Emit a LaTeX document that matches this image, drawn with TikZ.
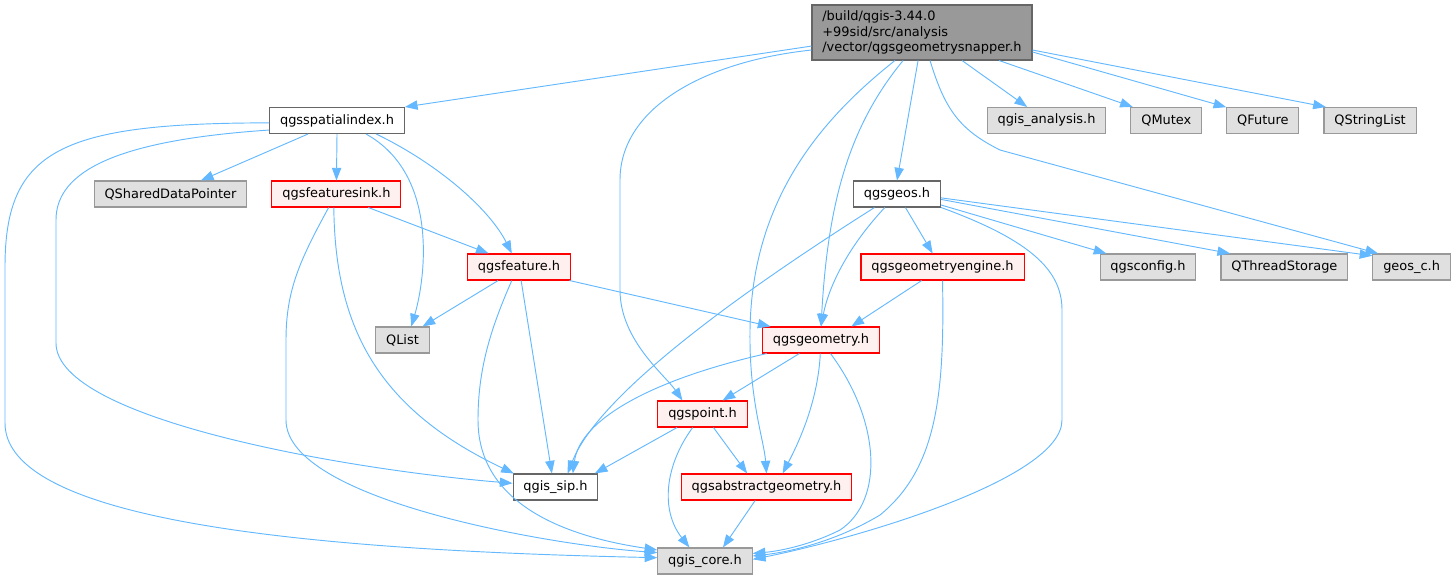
\documentclass[tikz,border=0pt]{standalone}
\usepackage{fontspec}
\setmainfont{DejaVu Sans}
\usepackage{tikz}
\usetikzlibrary{arrows.meta,positioning}
\definecolor{edgeblue}{HTML}{63B8FF}
\definecolor{boxgray}{HTML}{666666}
\definecolor{extgray}{HTML}{999999}
\definecolor{extfill}{HTML}{E0E0E0}
\definecolor{redfill}{HTML}{FFF0F0}
\tikzset{
    dep/.style={-{Triangle[length=9.5pt, width=7pt]}, line width=0.7pt, edgeblue},
    hfile/.style={draw=boxgray, fill=white, line width=0.8pt, minimum height=19.5pt, inner xsep=7.8pt, inner ysep=0pt, font=\fontsize{9.7pt}{12pt}\selectfont},
    sysfile/.style={hfile, draw=extgray, fill=extfill},
    redfile/.style={hfile, draw=red, fill=redfill},
    topfile/.style={hfile, fill=extgray, align=left, inner xsep=7pt, minimum width=165pt, minimum height=41.25pt, font=\fontsize{9.7pt}{11.7pt}\selectfont}
}

\begin{document}
\begin{tikzpicture}[x=0.75pt, y=-0.75pt, node distance=18pt]
    \useasboundingbox (0,0) rectangle (1455,579);

    % the snapper header
    \node[topfile] (snap) at (922,32.5) {/build/qgis-3.44.0\\+99sid/src/analysis\\/vector/qgsgeometrysnapper.h};

    % first row
    \node[hfile] (sidx) at (337,120.5) {qgsspatialindex.h};
    \node[sysfile] (ana) at (1046.5,120.5) {qgis\_analysis.h};
    \node[sysfile, right=of ana] (mutex) {QMutex};
    \node[sysfile, right=of mutex] (fut) {QFuture};
    \node[sysfile, right=of fut] (strl) {QStringList};

    % second row
    \node[sysfile] (qsdp) at (170.5,194) {QSharedDataPointer};
    \node[redfile, right=of qsdp] (sink) {qgsfeaturesink.h};
    \node[hfile] (geos) at (897,194) {qgsgeos.h};

    % third row
    \node[redfile] (feat) at (519,267) {qgsfeature.h};
    \node[redfile] (geng) at (942.5,267) {qgsgeometryengine.h};
    \node[sysfile] (conf) at (1148,267) {qgsconfig.h};
    \node[sysfile, right=of conf] (qts) {QThreadStorage};
    \node[sysfile, right=of qts] (geosc) {geos\_c.h};

    % lower rows
    \node[sysfile] (qlist) at (402.5,340) {QList};
    \node[redfile] (geom) at (821,340) {qgsgeometry.h};
    \node[redfile] (pt) at (702.5,414) {qgspoint.h};
    \node[hfile] (sip) at (555.5,487) {qgis\_sip.h};
    \node[redfile] (absg) at (766.5,487) {qgsabstractgeometry.h};
    \node[sysfile] (core) at (705,561) {qgis\_core.h};

    % includes of the snapper header
    \draw[dep] (snap.187.5) -- (sidx.north east);
    \draw[dep] (snap.189) .. controls (700,62) and (620,110) .. (620,180) -- (620,290) .. controls (620,340) and (665,375) .. (pt.146);
    \draw[dep] (snap.-134.5) .. controls (820,120) and (752,200) .. (750,330) .. controls (749,400) and (764,440) .. (absg.north);
    \draw[dep] (snap.-124.6) .. controls (850,125) and (828,200) .. (geom.north);
    \draw[dep] (snap.-98) -- (geos.north);
    \draw[dep] (snap.-74) .. controls (945,110) and (960,130) .. (1000,150) -- (geosc.158);
    \draw[dep] (snap.-35) -- (ana.145);
    \draw[dep] (snap.-20) -- (mutex.158);
    \draw[dep] (snap.-10.6) -- (fut.160);
    \draw[dep] (snap.-9) -- (strl.163.5);

    % qgsspatialindex.h
    \draw[dep] (sidx.-155) -- (qsdp.24);
    \draw[dep] (sidx.south) -- (sink.north);
    \draw[dep] (sidx.-25.7) .. controls (440,175) and (425,280) .. (qlist.57);
    \draw[dep] (sidx.-19) .. controls (440,165) and (490,210) .. (feat.118);
    \draw[dep] (sidx.188.7) .. controls (120,140) and (56,170) .. (56,220) -- (56,343) .. controls (56,420) and (350,470) .. (sip.175);
    \draw[dep] (sidx.182) .. controls (60,123) and (5,150) .. (5,267) -- (5,423) .. controls (5,520) and (300,550) .. (core.176);

    % qgsfeaturesink.h
    \draw[dep] (sink.-23.8) -- (feat.156);
    \draw[dep] (sink.-101) .. controls (335,330) and (380,410) .. (sip.162);
    \draw[dep] (sink.-120) .. controls (300,260) and (286,290) .. (286,340) -- (286,420) .. controls (286,500) and (550,545) .. (core.170.5);

    % qgsfeature.h
    \draw[dep] (feat.-147) -- (qlist.34);
    \draw[dep] (feat.-15) -- (geom.165);
    \draw[dep] (feat.-81) -- (sip.105);
    \draw[dep] (feat.-118) .. controls (490,330) and (478,370) .. (478,420) .. controls (478,515) and (590,540) .. (core.167);

    % qgsgeos.h
    \draw[dep] (geos.-58) -- (geng.126);
    \draw[dep] (geos.-132.7) .. controls (845,250) and (828,290) .. (geom.north);
    \draw[dep] (geos.-149.4) .. controls (760,280) and (600,390) .. (sip.48.5);
    \draw[dep] (geos.-17.6) .. controls (1030,240) and (1062,270) .. (1062,310) -- (1062,420) .. controls (1062,480) and (850,540) .. (core.2.4);
    \draw[dep] (geos.-14) -- (conf.162.4);
    \draw[dep] (geos.-7.8) -- (qts.166.8);
    \draw[dep] (geos.-5.2) -- (geosc.164);

    % qgsgeometryengine.h
    \draw[dep] (geng.-147.6) -- (geom.24);
    \draw[dep] (geng.south) .. controls (945,400) and (935,470) .. (880,515) .. controls (830,545) and (780,553) .. (core.6);

    % qgsgeometry.h
    \draw[dep] (geom.-148) -- (pt.34);
    \draw[dep] (geom.-166.5) .. controls (650,380) and (580,420) .. (sip.38);
    \draw[dep] (geom.-93) .. controls (818,400) and (800,440) .. (absg.40);
    \draw[dep] (geom.-55.3) .. controls (880,420) and (885,500) .. (840,530) .. controls (810,545) and (780,551) .. (core.9.5);

    % qgspoint.h and qgsabstractgeometry.h
    \draw[dep] (pt.-152) -- (sip.19.6);
    \draw[dep] (pt.-51) -- (absg.145);
    \draw[dep] (pt.-126) .. controls (665,465) and (660,510) .. (core.139);
    \draw[dep] (absg.-130) -- (core.37);
\end{tikzpicture}
\end{document}
